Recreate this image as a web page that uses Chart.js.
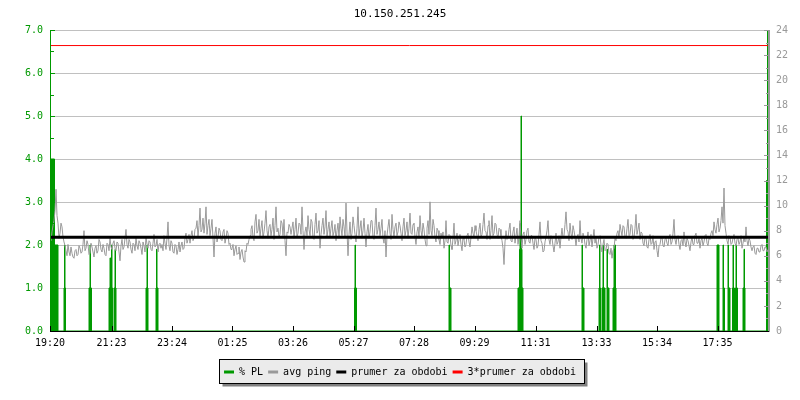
<!DOCTYPE html>
<html>
<head>
<meta charset="utf-8">
<script src="https://cdn.jsdelivr.net/npm/chart.js@4.4.1/dist/chart.umd.min.js"></script>
<style>
html,body{margin:0;padding:0;background:#ffffff;}
#wrap{width:800px;height:400px;}
</style>
</head>
<body>
<div id="wrap"><canvas id="c" width="800" height="400"></canvas></div>
<script>
// ---------------- data ----------------
const titleText = '10.150.251.245';

// x axis: minutes since 19:20
const xMaxMinutes = 1438;
const tickMinutes = [0, 123, 244, 365, 486, 607, 728, 849, 971, 1093, 1214, 1335];
const tickLabels  = ['19:20', '21:23', '23:24', '01:25', '03:26', '05:27', '07:28', '09:29', '11:31', '13:33', '15:34', '17:35'];

// avg ping samples (ms, right axis), one every 2 minutes from 19:20
const sampleStepMinutes = 2;
const pingValues = [
  7.4, 7.2, 7.9, 8.4, 8.8, 9.6, 11.3, 9.2, 8.6, 7.4, 7.8, 8.6, 8.3, 7.5, 7.1, 6.8,
  6.4, 6.0, 6.9, 6.3, 6.0, 6.7, 6.2, 5.9, 5.8, 6.4, 6.5, 6.0, 6.1, 6.8, 6.6, 6.2,
  6.3, 6.9, 8.0, 6.4, 6.6, 7.2, 6.9, 6.1, 6.2, 7.0, 6.7, 6.3, 5.9, 6.6, 6.8, 6.2, 6.4, 7.3, 7.1, 6.5, 6.3, 6.9, 6.6, 6.1, 6.0, 7.0, 6.9, 6.4, 7.4, 6.7,
  6.5, 7.0, 7.2, 6.6, 6.4, 7.1, 7.0, 6.3, 5.6, 6.8, 7.3, 6.5, 6.7, 7.4, 8.1, 6.9, 6.6, 7.3, 7.1, 6.5, 6.2, 7.0, 6.9, 6.4, 7.4,
  6.8, 6.5, 7.2, 7.0, 6.6, 6.1, 7.1, 6.8, 6.3, 7.5, 6.9, 6.6, 7.2, 7.1, 6.5, 6.4, 7.0, 7.7, 6.7, 6.8, 7.3, 6.3, 6.9, 7.0, 6.6,
  6.9, 6.4, 7.6, 7.0, 6.5, 7.4, 8.7, 6.8, 6.4, 7.2, 7.0, 6.3, 6.2, 6.9, 6.8, 6.1, 6.5, 7.1,
  6.3, 6.8, 7.1, 6.5, 6.6, 7.4, 7.8, 7.0, 7.3, 7.7, 7.0, 7.6, 8.0, 7.2, 7.4, 8.1,
  8.2, 8.8, 7.5, 8.4, 9.8, 7.9, 8.1, 9.0, 7.8, 8.6, 9.9, 7.7, 8.4, 8.9, 7.6, 8.2, 8.9, 7.4, 5.9, 7.8,
  8.3, 7.1, 7.5, 8.2, 8.0, 7.3, 7.2, 7.9, 8.1, 7.0, 7.4, 8.0, 7.8, 6.9, 7.0, 6.5,
  6.6, 6.9, 6.0, 6.5, 6.8, 6.1, 6.2, 6.7, 5.7, 6.3, 6.5, 5.9, 5.5, 6.4, 6.3, 7.0, 6.9, 7.3,
  7.6, 8.1, 8.4, 7.5, 7.2, 8.7, 9.3, 7.8, 8.0, 8.9, 7.5, 8.2, 8.8, 7.4, 7.9, 8.6, 9.6, 8.0, 7.4, 8.3, 8.5,
  7.6, 8.1, 9.0, 7.3, 8.4, 9.9, 7.9, 8.2, 7.5, 7.7, 8.8, 8.6, 7.6, 8.9, 7.2, 6.0, 7.9, 7.8, 8.5, 8.3, 7.7,
  8.2, 8.7, 7.4, 8.1, 9.0, 7.5, 7.8, 8.6, 8.5, 7.7, 9.9, 8.0, 6.5, 7.9, 8.3, 7.6, 9.2, 8.1, 7.6, 8.9,
  8.7, 7.4, 7.3, 8.5, 9.4, 7.8, 8.0, 8.8, 6.6, 7.7, 8.4, 9.0, 7.7, 8.3, 9.6, 7.5, 8.1, 8.7, 7.5, 8.2,
  8.8, 7.6, 7.9, 8.5, 7.2, 8.0, 8.6, 7.4, 9.1, 8.2, 7.6, 8.9, 8.3, 7.5, 10.2, 7.9, 6.0, 7.7, 8.7, 7.3,
  7.8, 9.1, 8.4, 7.7, 7.1, 8.2, 9.9, 7.6, 8.2, 8.8, 7.4, 8.0, 9.0, 7.8, 6.7, 7.9, 8.5, 7.4, 7.9, 8.8,
  8.8, 7.5, 7.3, 8.4, 9.8, 7.7, 8.1, 8.7, 7.6, 8.2, 8.9, 7.4, 7.0, 8.0, 5.9, 7.6, 8.3, 8.9, 7.8, 7.3,
  9.3, 8.1, 7.5, 8.3, 8.6, 7.6, 7.9, 8.7, 8.4, 7.8,
  7.2, 8.3, 9.0, 7.6, 8.0, 8.7, 7.4, 8.2, 9.4, 7.8, 7.7, 8.5, 8.6, 7.5, 6.9, 7.9, 8.3, 7.4, 9.2, 8.0,
  7.5, 8.6, 8.1, 7.3, 6.8, 8.2, 8.8, 7.7, 10.3, 8.0, 7.6, 8.9, 8.4, 7.5, 7.1, 8.2, 8.0, 7.3, 6.9, 7.8,
  7.4, 7.9, 6.6, 7.2, 8.8, 7.1, 7.0, 7.7, 7.6, 6.8, 6.5, 7.4, 8.6, 6.9, 7.2, 7.8, 6.8, 7.3, 7.7, 6.9,
  6.4, 7.5, 7.3, 6.7, 6.9, 7.6, 7.8, 7.1, 6.7, 7.5,
  8.3, 7.8, 7.5, 8.4, 8.0, 7.6, 7.2, 8.1, 8.6, 7.5, 7.7, 8.5, 9.4, 8.0, 7.9, 7.3, 8.4, 8.8, 7.3, 8.0,
  9.2, 7.6, 7.8, 8.6, 8.5, 7.7, 7.4, 8.2, 8.1, 7.6,
  7.2, 6.6, 5.3, 7.1, 8.0, 7.3, 7.4, 8.1, 8.6, 7.2, 7.1, 7.9, 8.3, 7.0, 7.6, 8.2, 6.9, 7.5, 8.8, 7.4,
  6.6, 7.7, 7.9, 6.9, 7.3, 8.0, 8.2, 7.1, 7.0, 7.6,
  7.6, 7.0, 6.5, 7.4, 7.3, 6.6, 6.8, 7.7, 8.7, 7.2, 7.0, 6.3, 6.4, 7.1, 7.5, 8.0, 8.8, 7.3, 6.9, 7.6,
  7.4, 6.8, 6.3, 7.0, 7.8, 6.9, 7.1, 7.6, 6.6, 7.5,
  8.2, 7.4, 7.6, 8.5, 9.5, 8.1, 7.9, 7.2, 8.6, 7.8, 7.3, 8.4, 8.0, 7.5,
  6.8, 7.5, 7.7, 7.1, 8.8, 7.4, 7.0, 7.8, 7.5, 6.9, 6.6, 7.3, 7.9, 6.8, 7.2, 7.7, 6.7, 7.4, 8.1, 7.0,
  7.4, 6.6, 6.9, 7.5, 7.6, 6.8,
  6.3, 6.9, 7.3, 6.4, 6.5, 7.0, 6.9, 6.2, 6.1, 6.6, 5.8, 6.4, 6.6, 7.4,
  7.2, 7.8, 8.0, 7.4, 8.5, 8.0, 7.6, 8.4, 8.3, 7.5, 7.4, 8.2, 8.9, 7.6, 7.7, 8.5, 8.4, 7.3, 7.5, 8.2,
  9.3, 7.7, 8.1, 8.6, 7.3, 7.9,
  7.8, 7.0, 6.8, 7.5, 7.4, 6.7, 6.6, 7.3, 7.7, 6.9, 7.0, 7.6, 6.5, 7.1, 7.2, 6.4, 5.9, 6.8, 6.9, 7.4,
  7.5, 6.8, 6.7, 7.3,
  7.4, 7.0, 6.8, 7.5, 7.7, 6.9, 7.1, 7.8, 8.9, 7.3, 6.9, 7.5, 7.6, 6.9, 6.5, 7.2, 7.3, 6.8, 7.9, 7.1,
  6.7, 7.4, 7.2, 6.8, 6.4, 7.1, 7.5, 6.9, 6.9, 7.6, 7.8, 7.0, 7.0, 7.4, 6.6, 7.2, 7.4, 6.8, 7.1, 7.6,
  7.7, 7.0, 6.8, 7.4, 7.3, 7.8,
  8.0, 7.6, 8.7, 8.1, 7.8, 8.5, 9.0, 7.9, 8.2, 8.8, 9.9, 8.6, 11.4, 8.4,
  7.8, 7.2, 6.9, 7.6, 7.5, 6.9, 7.0, 7.4, 7.7, 7.0, 6.8, 7.3, 7.4, 6.9, 7.1, 7.6, 6.6, 7.0, 7.5, 7.1,
  8.3, 7.2, 6.8, 7.4, 7.2, 6.7,
  6.4, 6.7, 6.8, 6.2, 6.1, 6.6, 6.6, 6.3, 6.3, 6.8, 6.9, 6.4, 6.4, 6.7, 6.7, 6.3, 6.5
];

// packet loss (%, left axis): value holds from each time until the next one
const plMinutes = [
  0, 9, 16,
  28, 29, 30, 31,
  78, 80, 81, 83,
  118, 120, 121, 123, 124, 125,
  128, 130, 131, 132,
  192, 194, 195, 196,
  212, 213, 214, 216,
  609, 610, 611, 613,
  798, 799, 802,
  936, 939, 940, 941, 942, 943, 944, 946,
  1064, 1065, 1068,
  1098, 1099, 1100, 1101,
  1104, 1106, 1107, 1110,
  1114, 1115, 1118,
  1126, 1128, 1129, 1130, 1131, 1132,
  1334, 1338,
  1346, 1347, 1349,
  1356, 1357, 1360,
  1365, 1366, 1367, 1369,
  1371, 1372, 1373, 1375,
  1386, 1388, 1389, 1390,
  1433, 1435, 1436, 1438
];
const plValues = [
  4.0, 2.0, 0,
  1.0, 2.0, 1.0, 0,
  1.0, 2.0, 1.0, 0,
  1.0, 1.7, 1.0, 2.0, 1.0, 0,
  1.0, 1.9, 1.0, 0,
  1.0, 2.0, 1.0, 0,
  1.0, 1.9, 1.0, 0,
  1.0, 2.0, 1.0, 0,
  2.0, 1.0, 0,
  1.0, 1.9, 2.5, 1.9, 5.0, 1.9, 1.0, 0,
  2.0, 1.0, 0,
  1.0, 2.0, 1.0, 0,
  1.0, 2.0, 1.0, 0,
  1.9, 1.0, 0,
  1.0, 2.0, 1.0, 2.0, 1.0, 0,
  2.0, 0,
  2.0, 1.0, 0,
  2.0, 1.0, 0,
  1.0, 2.0, 1.0, 0,
  1.0, 2.0, 1.0, 0,
  1.0, 1.9, 1.0, 0,
  3.5, 7.0, 3.5, 3.5
];

const avgPing = 7.48;        // "prumer za obdobi" (ms)
const tripleAvgPing = 22.76; // "3*prumer za obdobi" (ms)

// ---------------- chart ----------------
const FONT = 'DejaVu Sans Mono';
const GREEN = '#009900';
const GRAY = '#999999';

const pingPoints = pingValues.map((v, i) => ({x: i * sampleStepMinutes, y: v}));
const plPoints = plMinutes.map((t, i) => ({x: t, y: plValues[i]}));

const legendBoxPlugin = {
  id: 'legendBox',
  beforeDraw(chart) {
    const lg = chart.legend;
    if (!lg || !lg.legendHitBoxes || !lg.legendHitBoxes.length) return;
    const hb = lg.legendHitBoxes;
    let l = Infinity, r = -Infinity;
    hb.forEach(h => { l = Math.min(l, h.left); r = Math.max(r, h.left + h.width); });
    const cy = hb[0].top + hb[0].height / 2;
    const x0 = Math.round(l - 5) + 0.5, x1 = Math.round(r + 8) + 0.5;
    const y0 = Math.round(cy - 13) + 0.5, y1 = Math.round(cy + 11) + 0.5;
    const ctx = chart.ctx;
    ctx.save();
    ctx.fillStyle = '#808080';
    ctx.fillRect(x0 + 3, y0 + 3, x1 - x0, y1 - y0);
    ctx.fillStyle = '#ebebeb';
    ctx.fillRect(x0, y0, x1 - x0, y1 - y0);
    ctx.strokeStyle = '#000000';
    ctx.lineWidth = 1;
    ctx.strokeRect(x0, y0, x1 - x0, y1 - y0);
    ctx.restore();
  }
};

const innerTicksPlugin = {
  id: 'innerTicks',
  afterDraw(chart) {
    const ctx = chart.ctx;
    const {left, right, top, bottom} = chart.chartArea;
    const ys = chart.scales.y, y2 = chart.scales.y2, xs = chart.scales.x;
    ctx.save();
    ctx.lineWidth = 1;
    ctx.strokeStyle = GREEN;
    for (let v = 0; v <= ys.max + 1e-9; v += 0.5) {
      const y = Math.round(ys.getPixelForValue(v)) + 0.5;
      const len = (Math.abs(v - Math.round(v)) < 1e-9) ? 5 : 4;
      ctx.beginPath(); ctx.moveTo(left, y); ctx.lineTo(left + len, y); ctx.stroke();
    }
    ctx.beginPath(); ctx.moveTo(Math.round(left) + 0.5, top); ctx.lineTo(Math.round(left) + 0.5, bottom); ctx.stroke();
    ctx.strokeStyle = GRAY;
    for (let v = 0; v <= y2.max + 1e-9; v += 1) {
      const y = Math.round(y2.getPixelForValue(v)) + 0.5;
      const len = (v % 2 === 0) ? 5 : 3;
      ctx.beginPath(); ctx.moveTo(right, y); ctx.lineTo(right - len, y); ctx.stroke();
    }
    ctx.beginPath(); ctx.moveTo(Math.round(right) - 0.5, top); ctx.lineTo(Math.round(right) - 0.5, bottom); ctx.stroke();
    ctx.strokeStyle = '#000000';
    tickMinutes.forEach(t => {
      const x = Math.round(xs.getPixelForValue(t)) + 0.5;
      ctx.beginPath(); ctx.moveTo(x, bottom); ctx.lineTo(x, bottom - 5); ctx.stroke();
    });
    ctx.beginPath(); ctx.moveTo(left, Math.round(bottom) + 0.5); ctx.lineTo(right, Math.round(bottom) + 0.5); ctx.stroke();
    ctx.restore();
  }
};

new Chart(document.getElementById('c'), {
  type: 'line',
  data: {
    datasets: [
      {
        label: '% PL', data: plPoints, yAxisID: 'y', order: 4,
        borderColor: GREEN, backgroundColor: GREEN, borderWidth: 1,
        stepped: 'before', fill: 'origin', pointRadius: 0, tension: 0
      },
      {
        label: 'avg ping', data: pingPoints, yAxisID: 'y2', order: 3,
        borderColor: GRAY, backgroundColor: GRAY, borderWidth: 1,
        pointRadius: 0, tension: 0, fill: false
      },
      {
        label: 'prumer za obdobi', yAxisID: 'y2', order: 2,
        data: [{x: 0, y: avgPing}, {x: xMaxMinutes, y: avgPing}],
        borderColor: '#000000', backgroundColor: '#000000', borderWidth: 3,
        pointRadius: 0, fill: false
      },
      {
        label: '3*prumer za obdobi', yAxisID: 'y2', order: 1,
        data: [{x: 0, y: tripleAvgPing}, {x: xMaxMinutes, y: tripleAvgPing}],
        borderColor: '#ff0000', backgroundColor: '#ff0000', borderWidth: 1,
        pointRadius: 0, fill: false
      }
    ]
  },
  options: {
    responsive: false,
    animation: false,
    devicePixelRatio: 1,
    events: [],
    layout: {padding: {left: 0, right: 0, top: 0, bottom: 13}},
    scales: {
      x: {
        type: 'linear', min: 0, max: xMaxMinutes,
        grid: {display: false, drawTicks: false},
        border: {display: true, color: '#000000'},
        ticks: {
          color: '#000000', font: {family: FONT, size: 10}, padding: 6,
          autoSkip: false, maxRotation: 0, minRotation: 0,
          callback: (v, i) => tickLabels[i]
        },
        afterBuildTicks: (s) => { s.ticks = tickMinutes.map(v => ({value: v})); },
        afterFit: (s) => { s.height = 31; }
      },
      y: {
        position: 'left', min: 0, max: 7,
        grid: {color: '#c0c0c0', drawTicks: false, lineWidth: 1},
        border: {display: true, color: GREEN},
        ticks: {stepSize: 1, color: GREEN, font: {family: FONT, size: 10}, padding: 7,
                callback: (v) => Number(v).toFixed(1)},
        afterFit: (s) => { s.width = 50; }
      },
      y2: {
        position: 'right', min: 0, max: 24,
        grid: {display: false, drawTicks: false},
        border: {display: true, color: GRAY},
        ticks: {stepSize: 2, color: GRAY, font: {family: FONT, size: 10}, padding: 7},
        afterFit: (s) => { s.width = 31; }
      }
    },
    plugins: {
      title: {
        display: true, text: titleText, color: '#000000',
        font: {family: FONT, size: 11, weight: 'normal'},
        padding: {top: 8, bottom: 8.8}
      },
      legend: {
        display: true, position: 'bottom',
        labels: {
          font: {family: FONT, size: 10}, color: '#000000',
          boxWidth: 10, boxHeight: 3, padding: 5,
          sort: (a, b) => a.datasetIndex - b.datasetIndex,
          generateLabels: (chart) => Chart.defaults.plugins.legend.labels.generateLabels(chart)
            .map(it => Object.assign(it, {fillStyle: it.strokeStyle, lineWidth: 0}))
        }
      },
      tooltip: {enabled: false}
    }
  },
  plugins: [legendBoxPlugin, innerTicksPlugin]
});
</script>
</body>
</html>
